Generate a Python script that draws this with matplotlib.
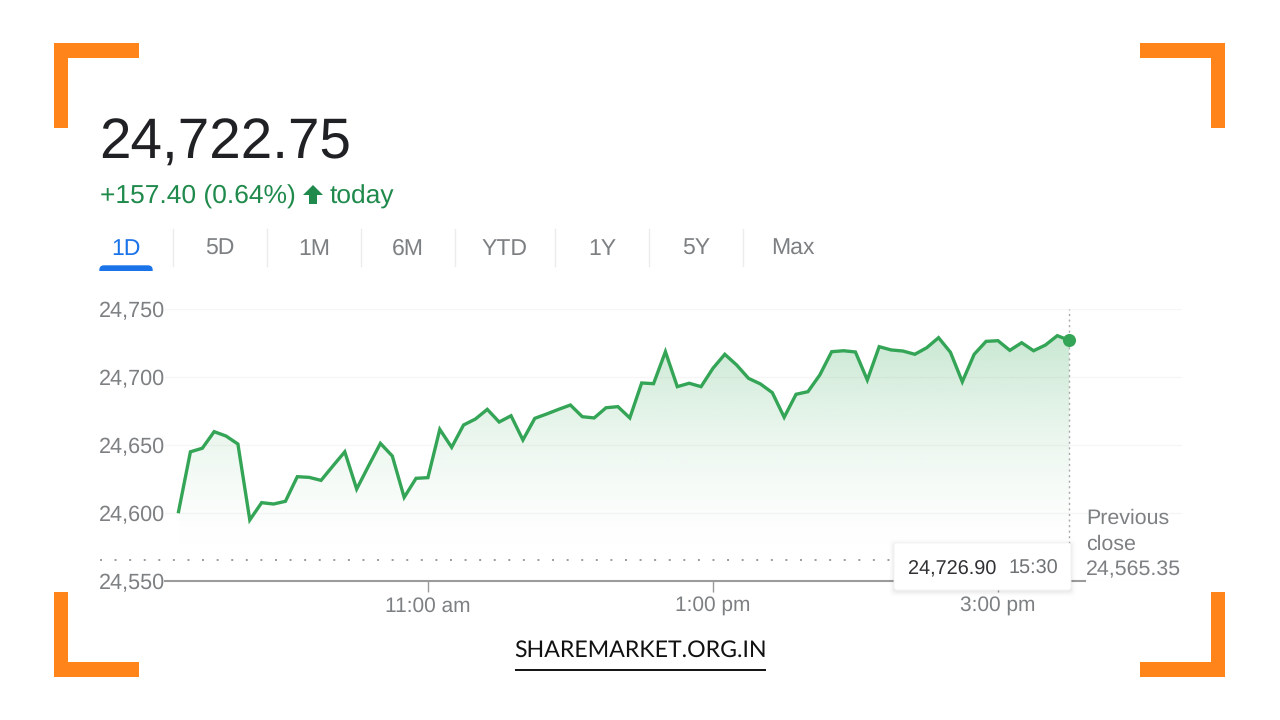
import numpy as np
import matplotlib
matplotlib.use('Agg')
import matplotlib.pyplot as plt
from matplotlib.patches import Rectangle, FancyBboxPatch, Polygon

plt.rcParams['font.family'] = ['Liberation Sans', 'DejaVu Sans']
plt.rcParams['text.hinting'] = 'no_hinting'

# nifty intraday, one close every 5 minutes
closes = [24601.0, 24645.0, 24647.6, 24659.8, 24656.6, 24650.7, 24594.9, 24607.6, 24606.6, 24608.6,
          24626.7, 24626.2, 24624.0, 24634.6, 24645.0, 24617.6, 24634.6, 24651.2, 24641.9, 24611.5,
          24625.5, 24626.0, 24661.5, 24648.3, 24664.7, 24669.1, 24676.2, 24666.9, 24671.5, 24653.7,
          24669.6, 24672.8, 24676.2, 24679.4, 24670.8, 24669.9, 24677.4, 24678.2, 24669.9, 24695.6,
          24695.1, 24718.6, 24692.9, 24695.4, 24692.9, 24706.4, 24716.7, 24708.8, 24699.0, 24694.9,
          24688.5, 24670.4, 24687.3, 24689.2, 24701.5, 24718.6, 24719.3, 24718.4, 24697.8, 24722.3,
          24719.9, 24719.1, 24716.7, 24721.5, 24728.9, 24718.2, 24696.5, 24716.7, 24726.2, 24726.7,
          24719.6, 24725.2, 24719.3, 24723.5, 24730.4, 24726.9]
minutes = np.arange(9 * 60 + 15, 15 * 60 + 31, 5)  # minutes since midnight

prev_close = 24565.35
y_ticks = [24550, 24600, 24650, 24700, 24750]
y_labels = ['24,550', '24,600', '24,650', '24,700', '24,750']
x_ticks = [660, 780, 900]
x_labels = ['11:00 am', '1:00 pm', '3:00 pm']

tabs = ['1D', '5D', '1M', '6M', 'YTD', '1Y', '5Y', 'Max']
tab_x = [126, 220, 314, 408, 505, 602, 696, 793]
tab_seps = [173, 267, 361, 455, 555, 649, 743]

GREEN = '#34a556'
GREY = '#7d8083'
ORANGE = '#ff8419'
W, H = 1280, 720

fig = plt.figure(figsize=(W / 100, H / 100), dpi=100, facecolor='white')

# chart axes: 24,550 sits at y=581px, 24,750 at y=309px
ax = fig.add_axes([165 / W, 1 - 581 / H, (1182 - 165) / W, (581 - 309) / H])

# gradient under the line, clipped to the area polygon
top = max(closes)
grad = np.zeros((256, 1, 4))
grad[:, 0, :3] = matplotlib.colors.to_rgb('#2fa553')
grad[:, 0, 3] = 0.26 * np.linspace(1, 0, 256) ** 1.6
im = ax.imshow(grad, extent=[minutes[0], minutes[-1], prev_close, top], aspect='auto',
               origin='upper', zorder=1, interpolation='bilinear')
area = Polygon(list(zip(minutes, closes)) + [(minutes[-1], prev_close), (minutes[0], prev_close)],
               closed=True, transform=ax.transData, fc='none', ec='none')
ax.add_patch(area)
im.set_clip_path(area)

ax.plot(minutes, closes, color=GREEN, lw=2.4, zorder=3, solid_joinstyle='miter')
ax.plot(minutes[-1], closes[-1], 'o', color=GREEN, ms=9.4, mew=0, zorder=4)

# previous close dots start left of the axes, under the tick labels
ax.plot([522, 932], [prev_close, prev_close], color='#9a9a9a', lw=1.4,
        ls=(0, (1, 6.5)), clip_on=False, zorder=2)
ax.plot([minutes[-1], minutes[-1]], [prev_close, 24750], color='#a8a8a8', lw=1,
        ls=(0, (1.5, 2.5)), zorder=2)

for v in y_ticks:
    ax.axhline(v, color='#f6f6f6', lw=1, zorder=0)
ax.plot([549.3, 936.5], [24550, 24550], color='#9b9b9b', lw=1.5, zorder=2, clip_on=False)

ax.set_xlim(549.3, 977.5)
ax.set_ylim(24550, 24750)
for s in ax.spines.values():
    s.set_visible(False)
ax.set_yticks(y_ticks, y_labels)
ax.set_xticks(x_ticks, x_labels)
ax.tick_params(axis='y', length=0, pad=0, labelsize=15.6, labelcolor=GREY)
ax.tick_params(axis='x', length=8, width=1, color='#9b9b9b', pad=3, labelsize=15, labelcolor=GREY)
ax.patch.set_alpha(0)

# overlay in pixel coordinates for header, tabs, frame and tooltip
ov = fig.add_axes([0, 0, 1, 1], zorder=5)
ov.set_xlim(0, W)
ov.set_ylim(H, 0)
ov.axis('off')

# orange corner brackets
for x0, x1, xv in [(54, 139, 54), (1140, 1225, 1211)]:
    ov.add_patch(Rectangle((x0, 43), x1 - x0, 15, fc=ORANGE, ec='none'))
    ov.add_patch(Rectangle((xv, 43), 14, 85, fc=ORANGE, ec='none'))
    ov.add_patch(Rectangle((x0, 662), x1 - x0, 15, fc=ORANGE, ec='none'))
    ov.add_patch(Rectangle((xv, 592), 14, 85, fc=ORANGE, ec='none'))

ov.text(99, 159, '24,722.75', fontsize=40.8, color='#202124', va='baseline', ha='left')
ov.text(100, 204, '+157.40 (0.64%)', fontsize=19, color='#1f8a4c', va='baseline', ha='left')
ov.add_patch(Polygon([(313, 185), (323, 195), (317, 195), (317, 204), (309, 204), (309, 195), (303, 195)],
                     closed=True, fc='#1f8a4c', ec='none'))
ov.text(330, 204, 'today', fontsize=19, color='#1f8a4c', va='baseline', ha='left')

for label, x in zip(tabs, tab_x):
    ov.text(x, 255, label, fontsize=16.6, ha='center', va='baseline',
            color='#1a73e8' if label == '1D' else GREY)
for x in tab_seps:
    ov.plot([x, x], [229, 266], color='#ececec', lw=1)
ov.add_patch(FancyBboxPatch((100, 266), 52, 8, boxstyle='round,pad=0,rounding_size=4',
                            fc='#1a73e8', ec='#1a73e8', lw=1))
ov.add_patch(Rectangle((97, 271), 60, 6, fc='white', ec='none'))

# previous close note
ov.text(1086, 524, 'Previous', fontsize=15.4, color=GREY, ha='left', va='baseline')
ov.text(1086, 550, 'close', fontsize=15.4, color=GREY, ha='left', va='baseline')
ov.text(1086, 575, '24,565.35', fontsize=15.4, color=GREY, ha='left', va='baseline')

# tooltip with a soft shadow
for grow, a in [(5, 0.006), (4, 0.009), (3, 0.013), (2, 0.018), (1, 0.025)]:
    ov.add_patch(FancyBboxPatch((894 - grow, 543 - grow + 1.5), 177 + 2 * grow, 47 + 2 * grow,
                                boxstyle='round,pad=0,rounding_size=4', fc='black', ec='none', alpha=a))
ov.add_patch(FancyBboxPatch((894, 543), 177, 47, boxstyle='round,pad=0,rounding_size=3',
                            fc='white', ec='#f3f3f3', lw=0.6))
ov.text(908, 574, '24,726.90', fontsize=14.3, color='#303134', ha='left', va='baseline')
ov.text(1008, 574, '15:30', fontsize=14.3, color='#6f7376', ha='left', va='baseline')

ov.text(640.5, 657, 'SHAREMARKET.ORG.IN', fontsize=16.7, family='Lato', color='#111111', ha='center', va='baseline')
ov.plot([515, 766], [670, 670], color='#111111', lw=1.4, solid_capstyle='butt')

fig.savefig('out.png', dpi=100)
